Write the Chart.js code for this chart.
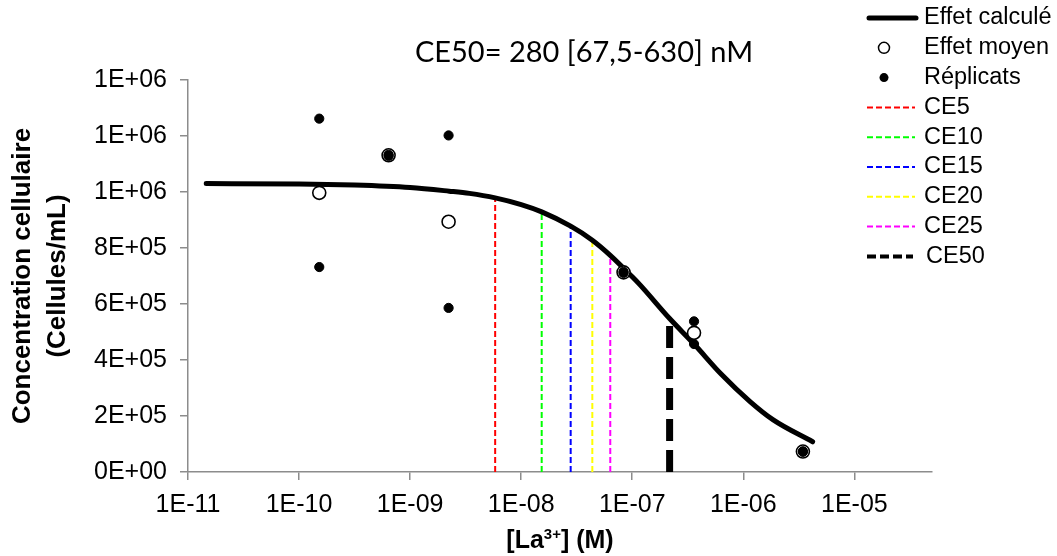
<!DOCTYPE html>
<html>
<head>
<meta charset="utf-8">
<title>CE50 La3+</title>
<script src="https://cdn.jsdelivr.net/npm/chart.js@4.4.0/dist/chart.umd.min.js"></script>
<style>
    html, body { margin: 0; padding: 0; background: #fff; }
    #wrap { width: 1057px; height: 556px; position: relative; }
</style>
</head>
<body>
<div id="wrap"><canvas id="chart"></canvas></div>
<script>
// concentrations in M, cells in cellules/mL
const curveConc  = [1.46e-11, 1e-10, 3.16e-10, 1e-9, 2.25e-9, 3.42e-9, 5.83e-9, 1e-8, 1.53e-8, 2.79e-8, 4.37e-8, 6.34e-8, 1e-7, 1.17e-7, 2.17e-7, 3.6e-7, 6.31e-7, 1.15e-6, 1.86e-6, 4.21e-6];
const curveCells = [1.030e6, 1.029e6, 1.025e6, 1.016e6, 1.003e6, 0.995e6, 0.979e6, 0.955e6, 0.929e6, 0.878e6, 0.828e6, 0.774e6, 0.697e6, 0.669e6, 0.548e6, 0.457e6, 0.350e6, 0.2515e6, 0.186e6, 0.108e6];

const meanConc  = [1.52e-10, 6.4e-10, 2.22e-9, 8.35e-8, 3.6e-7, 3.44e-6];
const meanCells = [0.997e6, 1.131e6, 0.894e6, 0.713e6, 0.497e6, 0.073e6];

const repConc  = [1.52e-10, 1.52e-10, 6.4e-10, 6.4e-10, 2.22e-9, 2.22e-9, 8.35e-8, 8.35e-8, 3.6e-7, 3.6e-7, 3.44e-6, 3.44e-6];
const repCells = [1.262e6, 0.732e6, 1.133e6, 1.129e6, 1.202e6, 0.586e6, 0.715e6, 0.711e6, 0.538e6, 0.457e6, 0.074e6, 0.072e6];

const ceLabels = ['CE5', 'CE10', 'CE15', 'CE20', 'CE25', 'CE50'];
const ceConc   = [5.83e-9, 1.53e-8, 2.79e-8, 4.37e-8, 6.34e-8, 2.17e-7];
const ceCells  = [0.979e6, 0.929e6, 0.878e6, 0.828e6, 0.774e6, 0.538e6];
const ceColors = ['#ff0000', '#00ff00', '#0000ff', '#ffff00', '#ff00ff', '#000000'];

const xTickValues = [1e-11, 1e-10, 1e-9, 1e-8, 1e-7, 1e-6, 1e-5];
const xTickLabels = ['1E-11', '1E-10', '1E-09', '1E-08', '1E-07', '1E-06', '1E-05'];
const yTickLabels = ['0E+00', '2E+05', '4E+05', '6E+05', '8E+05', '1E+06', '1E+06', '1E+06'];

const titleText = 'CE50= 280 [67,5-630] nM';
const yTitle = ['Concentration cellulaire', '(Cellules/mL)'];

const axisGrey = '#8c8c8c';
const sans = '"Liberation Sans", Arial, sans-serif';

const zip = (xs, ys) => xs.map((x, i) => ({ x: x, y: ys[i] }));

const ceDatasets = ceLabels.map((lab, i) => ({
    label: lab,
    type: 'line',
    data: [{ x: ceConc[i], y: 0 }, { x: ceConc[i], y: ceCells[i] }],
    borderColor: ceColors[i],
    borderWidth: lab === 'CE50' ? 7 : 2,
    borderDash: lab === 'CE50' ? [22, 9] : [6, 3],
    borderCapStyle: 'butt',
    pointRadius: 0,
    order: 5
}));

// legend drawn by hand so it can overlap the plot's right side like the original
const legendPlugin = {
    id: 'sideLegend',
    afterDraw(chart) {
        const ctx = chart.ctx;
        const x0 = 867, x1 = 916, tx = 924, y0 = 18, dy = 29.8;
        ctx.save();
        ctx.font = '23.5px ' + sans;
        ctx.textBaseline = 'middle';
        ctx.fillStyle = '#000';
        const rows = [{ text: 'Effet calculé', kind: 'curve' }, { text: 'Effet moyen', kind: 'mean' }, { text: 'Réplicats', kind: 'rep' }]
            .concat(ceLabels.map((l, i) => ({ text: l, kind: 'ce', i: i })));
        rows.forEach((r, k) => {
            const y = y0 + k * dy;
            if (r.kind === 'curve') {
                ctx.beginPath(); ctx.lineWidth = 5; ctx.lineCap = 'round'; ctx.strokeStyle = '#000';
                ctx.moveTo(x0 + 2, y); ctx.lineTo(x1, y); ctx.stroke();
            } else if (r.kind === 'mean') {
                ctx.beginPath(); ctx.lineWidth = 1.5; ctx.strokeStyle = '#000'; ctx.fillStyle = '#fff';
                ctx.arc(884, y, 5.5, 0, Math.PI * 2); ctx.fill(); ctx.stroke(); ctx.fillStyle = '#000';
            } else if (r.kind === 'rep') {
                ctx.beginPath(); ctx.fillStyle = '#000';
                ctx.arc(884, y, 4.5, 0, Math.PI * 2); ctx.fill();
            } else {
                const big = ceLabels[r.i] === 'CE50';
                ctx.beginPath(); ctx.lineCap = 'butt'; ctx.strokeStyle = ceColors[r.i];
                ctx.lineWidth = big ? 4 : 2; ctx.setLineDash(big ? [9, 4] : [6, 3]);
                ctx.moveTo(x0, y); ctx.lineTo(big ? 913 : 915, y); ctx.stroke(); ctx.setLineDash([]);
            }
            ctx.fillStyle = '#000';
            ctx.fillText(r.text, r.kind === 'ce' && ceLabels[r.i] === 'CE50' ? tx + 2 : tx, y);
        });
        ctx.restore();
    }
};

// chart title and x-axis title with the superscript
const textPlugin = {
    id: 'extraText',
    afterDraw(chart) {
        const ctx = chart.ctx;
        const area = chart.chartArea;
        ctx.save();
        ctx.fillStyle = '#000';
        ctx.textBaseline = 'alphabetic';
        ctx.textAlign = 'center';
        ctx.font = '29px Lato, "Open Sans", sans-serif';
        ctx.fillText(titleText, 584, 62);

        const cx = (area.left + area.right) / 2;
        const big = 'bold 25px ' + sans;
        const small = 'bold 15px ' + sans;
        const parts = [['[La', big, 0], ['3+', small, -9], ['] (M)', big, 0]];
        let w = 0;
        parts.forEach(p => { ctx.font = p[1]; w += ctx.measureText(p[0]).width; });
        let x = cx - w / 2;
        ctx.textAlign = 'left';
        parts.forEach(p => {
            ctx.font = p[1];
            ctx.fillText(p[0], x, 548 + p[2]);
            x += ctx.measureText(p[0]).width;
        });
        ctx.restore();
    }
};

new Chart(document.getElementById('chart'), {
    type: 'scatter',
    data: {
        datasets: [
            {
                label: 'Réplicats',
                data: zip(repConc, repCells),
                backgroundColor: '#000',
                borderColor: '#000',
                pointRadius: 4.6,
                order: 0
            },
            {
                label: 'Effet moyen',
                data: zip(meanConc, meanCells),
                backgroundColor: '#fff',
                borderColor: '#000',
                borderWidth: 1.6,
                pointRadius: 6.5,
                order: 1
            },
            {
                label: 'Effet calculé',
                type: 'line',
                data: zip(curveConc, curveCells),
                borderColor: '#000',
                borderWidth: 5,
                borderCapStyle: 'round',
                cubicInterpolationMode: 'monotone',
                pointRadius: 0,
                order: 2
            }
        ].concat(ceDatasets)
    },
    options: {
        responsive: true,
        maintainAspectRatio: false,
        animation: false,
        layout: { padding: { left: 0, top: 80, right: 125, bottom: 0 } },
        plugins: {
            legend: { display: false },
            tooltip: { enabled: false }
        },
        scales: {
            x: {
                type: 'logarithmic',
                min: 1e-11,
                max: 5e-5,
                afterBuildTicks: scale => { scale.ticks = xTickValues.map(v => ({ value: v })); },
                afterFit: scale => { scale.height = 84; },
                grid: { drawOnChartArea: false, color: axisGrey, tickLength: 8, lineWidth: 1.5 },
                border: { color: axisGrey, width: 1.5 },
                ticks: {
                    autoSkip: false,
                    maxRotation: 0,
                    padding: 10,
                    color: '#000',
                    font: { family: sans, size: 25 },
                    callback: (v, i) => xTickLabels[i]
                }
            },
            y: {
                min: 0,
                max: 1.4e6,
                afterFit: scale => { scale.width = 188; },
                grid: { drawOnChartArea: false, color: axisGrey, tickLength: 8, lineWidth: 1.5 },
                border: { color: axisGrey, width: 1.5 },
                ticks: {
                    stepSize: 2e5,
                    padding: 13,
                    color: '#000',
                    font: { family: sans, size: 25 },
                    callback: (v, i) => yTickLabels[i]
                },
                title: {
                    display: true,
                    text: yTitle,
                    color: '#000',
                    padding: { top: 5, bottom: 0 },
                    font: { family: sans, size: 26, weight: 'bold', lineHeight: 1.35 }
                }
            }
        }
    },
    plugins: [legendPlugin, textPlugin]
});
</script>
</body>
</html>
